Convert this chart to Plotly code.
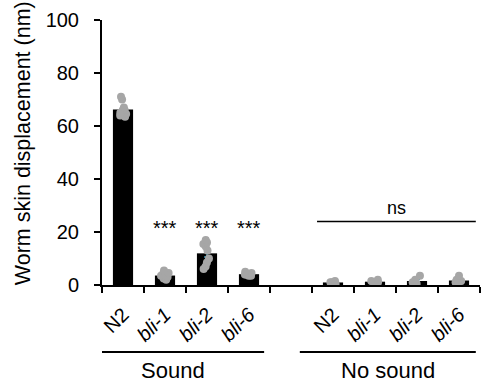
import numpy as np
import plotly.graph_objects as go

# ---- data ----
categories = ["N2", "bli-1", "bli-2", "bli-6", "", "N2", "bli-1", "bli-2", "bli-6"]
tick_labels = ["N2", "<i>bli-1</i>", "<i>bli-2</i>", "<i>bli-6</i>", "",
               "N2", "<i>bli-1</i>", "<i>bli-2</i>", "<i>bli-6</i>"]
sound_n2 = [71, 70, 67, 66, 65.5, 65, 64.5, 64, 63.5, 66]
sound_bli1 = [5.5, 4.5, 3.5, 3, 2, 4, 2.5]
sound_bli2 = [17, 16, 15.5, 14.5, 13, 10, 8.5, 7, 6]
sound_bli6 = [5, 4.5, 4, 3.5, 3.5, 4]
nosound_n2 = [1.5, 1, 0.5, 1, 0.8]
nosound_bli1 = [2, 1.5, 1, 0.5]
nosound_bli2 = [3.5, 2, 1, 0.5, 0.5]
nosound_bli6 = [3.5, 2, 1.5, 1, 0.5]
groups = [sound_n2, sound_bli1, sound_bli2, sound_bli6, None,
          nosound_n2, nosound_bli1, nosound_bli2, nosound_bli6]
stars = ["", "***", "***", "***", "", "", "", "", ""]
y_ticks = [0, 20, 40, 60, 80, 100]

font = "Liberation Sans, Arial, sans-serif"

xs, means, sems = [], [], []
px, py = [], []
for i, g in enumerate(groups):
    if g is None:
        continue
    arr = np.array(g, dtype=float)
    xs.append(i)
    means.append(arr.mean())
    sems.append(arr.std(ddof=1) / np.sqrt(len(arr)))
    px += [i] * len(arr)
    py += list(arr)

fig = go.Figure()
fig.add_trace(go.Bar(
    x=xs, y=means, width=0.48, marker=dict(color="black", line=dict(width=0)),
    error_y=dict(type="data", array=sems, visible=True, color="#3a98b4",
                 thickness=1.5, width=3),
    showlegend=False))
fig.add_trace(go.Box(
    x=px, y=py, boxpoints="all", jitter=0.7, pointpos=0, width=0.3,
    fillcolor="rgba(0,0,0,0)", line=dict(width=0, color="rgba(0,0,0,0)"),
    marker=dict(color="#a6a6a6", size=8), showlegend=False, hoverinfo="y"))

# significance stars
for i, s in enumerate(stars):
    if s:
        fig.add_annotation(x=i, y=21.5, text=s, showarrow=False,
                           font=dict(family=font, size=20, color="black"),
                           yanchor="middle")

# ns bracket
fig.add_shape(type="line", xref="x", yref="y", x0=4.62, x1=8.4, y0=24, y1=24,
              line=dict(color="black", width=1.5))
fig.add_annotation(x=6.5, y=24, text="ns", showarrow=False, yanchor="bottom", yshift=1,
                   font=dict(family=font, size=18, color="black"))

# group lines and labels
fig.add_shape(type="line", xref="x", yref="paper", x0=-0.83, x1=3.36, y0=-0.253, y1=-0.253,
              line=dict(color="black", width=2))
fig.add_shape(type="line", xref="x", yref="paper", x0=4.21, x1=8.4, y0=-0.253, y1=-0.253,
              line=dict(color="black", width=2))
fig.add_annotation(x=1.2, xref="x", y=-0.322, yref="paper", text="Sound", showarrow=False,
                   yanchor="middle", font=dict(family=font, size=22, color="black"))
fig.add_annotation(x=6.3, xref="x", y=-0.322, yref="paper", text="No sound", showarrow=False,
                   yanchor="middle", font=dict(family=font, size=22, color="black"))

# y title
fig.add_annotation(x=-0.209, xref="paper", y=0.535, yref="paper",
                   text="Worm skin displacement (nm)", textangle=-90, showarrow=False,
                   xanchor="center", yanchor="middle",
                   font=dict(family=font, size=21.5, color="black"))

fig.update_layout(
    width=481, height=383, margin=dict(l=102, r=1, t=20, b=98),
    plot_bgcolor="white", paper_bgcolor="white",
    font=dict(family=font, size=15, color="black"),
    barmode="overlay", boxmode="overlay",
    xaxis=dict(range=[-0.5, 8.5], tickmode="array", tickvals=list(range(9)),
               ticktext=tick_labels, tickangle=-45, ticks="", showgrid=False,
               zeroline=False, showline=True, linecolor="black", linewidth=2,
               tickfont=dict(size=20), ticklabelstandoff=8,
               minor=dict(tickmode="array", tickvals=[i - 0.5 for i in range(10)],
                          ticks="outside", ticklen=6, tickwidth=2, tickcolor="black",
                          showgrid=False)),
    yaxis=dict(range=[0, 100], tickvals=y_ticks, ticks="outside", ticklen=6, tickwidth=2,
               tickcolor="black", showline=True, linecolor="black", linewidth=2,
               showgrid=False, zeroline=False, tickfont=dict(size=20),
               ticklabelstandoff=11),
)

fig.write_html("out.html", config={"displayModeBar": False},
               post_script="document.body.style.margin='0';document.body.style.overflow='hidden';")
